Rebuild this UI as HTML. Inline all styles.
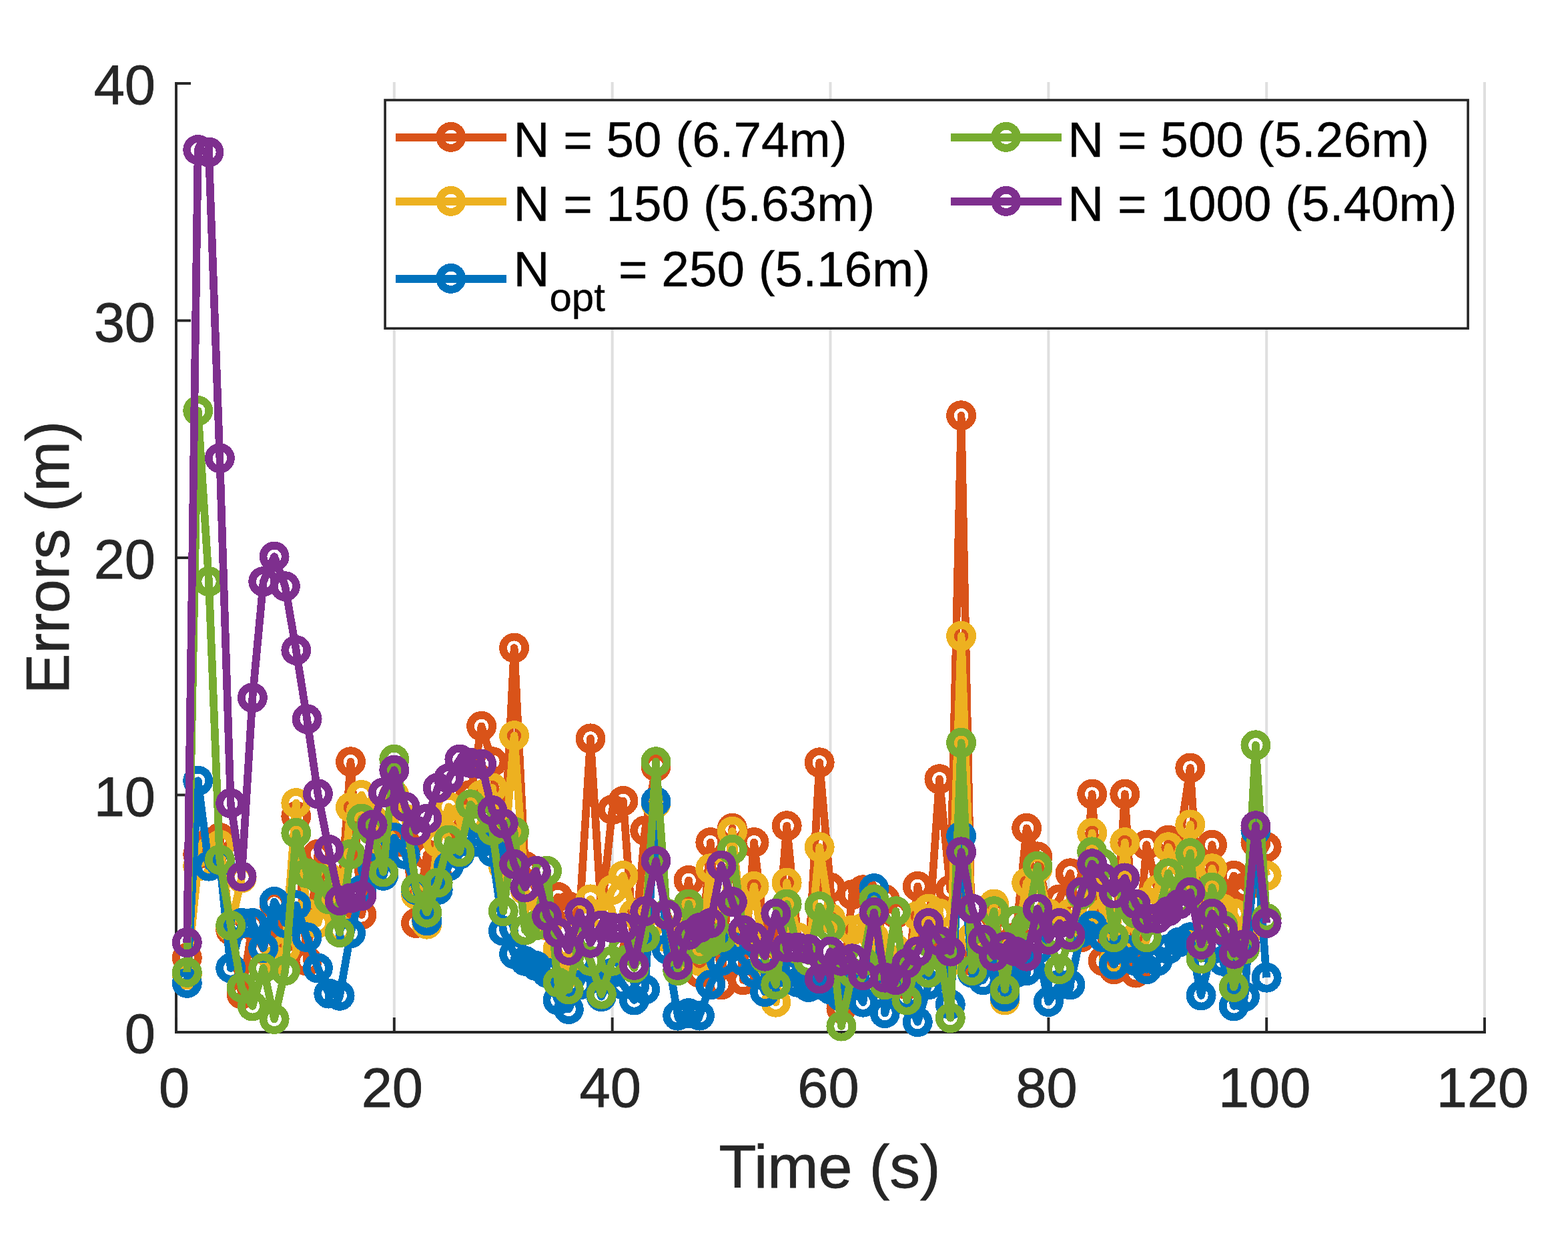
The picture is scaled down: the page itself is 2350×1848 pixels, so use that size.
<!DOCTYPE html><html><head><meta charset="utf-8"><title>Errors vs Time</title>
<style>html,body{margin:0;padding:0;background:#fff;}svg{display:block;}text{font-family:"Liberation Sans",Arial,sans-serif;}</style></head><body>
<svg width="2350" height="1848" viewBox="0 0 2350 1848">
<rect x="0" y="0" width="2350" height="1848" fill="#ffffff"/>
<line x1="590.8" y1="123" x2="590.8" y2="1547" stroke="#dfdfdf" stroke-width="4"/>
<line x1="917.7" y1="123" x2="917.7" y2="1547" stroke="#dfdfdf" stroke-width="4"/>
<line x1="1244.5" y1="123" x2="1244.5" y2="1547" stroke="#dfdfdf" stroke-width="4"/>
<line x1="1571.4" y1="123" x2="1571.4" y2="1547" stroke="#dfdfdf" stroke-width="4"/>
<line x1="1898.2" y1="123" x2="1898.2" y2="1547" stroke="#dfdfdf" stroke-width="4"/>
<line x1="2225.0" y1="123" x2="2225.0" y2="1547" stroke="#dfdfdf" stroke-width="4"/>
<g stroke="#262626" stroke-width="3.9" fill="none">
<line x1="264" y1="123" x2="264" y2="1548.95"/>
<line x1="262.05" y1="1547" x2="2227" y2="1547"/>
<line x1="264" y1="1547.0" x2="286" y2="1547.0"/>
<line x1="264" y1="1191.5" x2="286" y2="1191.5"/>
<line x1="264" y1="836.0" x2="286" y2="836.0"/>
<line x1="264" y1="480.5" x2="286" y2="480.5"/>
<line x1="264" y1="125.0" x2="286" y2="125.0"/>
<line x1="264.0" y1="1547" x2="264.0" y2="1525"/>
<line x1="590.8" y1="1547" x2="590.8" y2="1525"/>
<line x1="917.7" y1="1547" x2="917.7" y2="1525"/>
<line x1="1244.5" y1="1547" x2="1244.5" y2="1525"/>
<line x1="1571.4" y1="1547" x2="1571.4" y2="1525"/>
<line x1="1898.2" y1="1547" x2="1898.2" y2="1525"/>
<line x1="2225.0" y1="1547" x2="2225.0" y2="1525"/>
</g>
<g stroke="#D95319" fill="none" shape-rendering="crispEdges">
<polyline points="280.3,1435.7 296.7,1280.4 313.0,1262.6 329.4,1255.5 345.7,1394.1 362.1,1490.1 378.4,1387.0 394.7,1422.6 411.1,1355.0 427.4,1404.8 443.8,1223.5 460.1,1440.3 476.4,1280.4 492.8,1333.7 509.1,1369.2 525.5,1141.7 541.8,1371.0 558.2,1298.2 574.5,1262.6 590.8,1262.6 607.2,1262.6 623.5,1383.5 639.9,1280.4 656.2,1315.9 672.5,1262.6 688.9,1227.0 705.2,1191.5 721.6,1088.4 737.9,1141.7 754.3,1298.2 770.6,971.1 786.9,1298.2 803.3,1333.7 819.6,1369.2 836.0,1344.4 852.3,1358.6 868.7,1369.2 885.0,1106.9 901.3,1369.2 917.7,1213.5 934.0,1200.4 950.4,1422.6 966.7,1244.8 983.0,1148.8 999.4,1369.2 1015.7,1404.8 1032.1,1319.5 1048.4,1458.1 1064.8,1262.6 1081.1,1475.9 1097.4,1241.3 1113.8,1468.8 1130.1,1262.6 1146.5,1404.8 1162.8,1440.3 1179.2,1237.7 1195.5,1404.8 1211.8,1440.3 1228.2,1142.8 1244.5,1330.1 1260.9,1511.5 1277.2,1340.8 1293.5,1333.7 1309.9,1440.3 1326.2,1347.9 1342.6,1369.2 1358.9,1475.9 1375.3,1328.4 1391.6,1404.8 1407.9,1167.7 1424.3,1333.7 1440.6,622.7 1457.0,1440.3 1473.3,1440.3 1489.6,1369.2 1506.0,1440.3 1522.3,1404.8 1538.7,1241.3 1555.0,1283.9 1571.4,1369.2 1587.7,1347.9 1604.0,1308.8 1620.4,1404.8 1636.7,1190.1 1653.1,1440.3 1669.4,1452.8 1685.8,1190.1 1702.1,1458.1 1718.4,1266.2 1734.8,1333.7 1751.1,1259.0 1767.5,1262.6 1783.8,1151.0 1800.1,1404.8 1816.5,1266.2 1832.8,1351.5 1849.2,1312.4 1865.5,1330.1 1881.9,1262.6 1898.2,1269.7" stroke-width="11.7" stroke-linejoin="round" stroke-linecap="butt"/>
<g stroke-width="11.8"><circle cx="280.3" cy="1435.7" r="16.55"/><circle cx="296.7" cy="1280.4" r="16.55"/><circle cx="313.0" cy="1262.6" r="16.55"/><circle cx="329.4" cy="1255.5" r="16.55"/><circle cx="345.7" cy="1394.1" r="16.55"/><circle cx="362.1" cy="1490.1" r="16.55"/><circle cx="378.4" cy="1387.0" r="16.55"/><circle cx="394.7" cy="1422.6" r="16.55"/><circle cx="411.1" cy="1355.0" r="16.55"/><circle cx="427.4" cy="1404.8" r="16.55"/><circle cx="443.8" cy="1223.5" r="16.55"/><circle cx="460.1" cy="1440.3" r="16.55"/><circle cx="476.4" cy="1280.4" r="16.55"/><circle cx="492.8" cy="1333.7" r="16.55"/><circle cx="509.1" cy="1369.2" r="16.55"/><circle cx="525.5" cy="1141.7" r="16.55"/><circle cx="541.8" cy="1371.0" r="16.55"/><circle cx="558.2" cy="1298.2" r="16.55"/><circle cx="574.5" cy="1262.6" r="16.55"/><circle cx="590.8" cy="1262.6" r="16.55"/><circle cx="607.2" cy="1262.6" r="16.55"/><circle cx="623.5" cy="1383.5" r="16.55"/><circle cx="639.9" cy="1280.4" r="16.55"/><circle cx="656.2" cy="1315.9" r="16.55"/><circle cx="672.5" cy="1262.6" r="16.55"/><circle cx="688.9" cy="1227.0" r="16.55"/><circle cx="705.2" cy="1191.5" r="16.55"/><circle cx="721.6" cy="1088.4" r="16.55"/><circle cx="737.9" cy="1141.7" r="16.55"/><circle cx="754.3" cy="1298.2" r="16.55"/><circle cx="770.6" cy="971.1" r="16.55"/><circle cx="786.9" cy="1298.2" r="16.55"/><circle cx="803.3" cy="1333.7" r="16.55"/><circle cx="819.6" cy="1369.2" r="16.55"/><circle cx="836.0" cy="1344.4" r="16.55"/><circle cx="852.3" cy="1358.6" r="16.55"/><circle cx="868.7" cy="1369.2" r="16.55"/><circle cx="885.0" cy="1106.9" r="16.55"/><circle cx="901.3" cy="1369.2" r="16.55"/><circle cx="917.7" cy="1213.5" r="16.55"/><circle cx="934.0" cy="1200.4" r="16.55"/><circle cx="950.4" cy="1422.6" r="16.55"/><circle cx="966.7" cy="1244.8" r="16.55"/><circle cx="983.0" cy="1148.8" r="16.55"/><circle cx="999.4" cy="1369.2" r="16.55"/><circle cx="1015.7" cy="1404.8" r="16.55"/><circle cx="1032.1" cy="1319.5" r="16.55"/><circle cx="1048.4" cy="1458.1" r="16.55"/><circle cx="1064.8" cy="1262.6" r="16.55"/><circle cx="1081.1" cy="1475.9" r="16.55"/><circle cx="1097.4" cy="1241.3" r="16.55"/><circle cx="1113.8" cy="1468.8" r="16.55"/><circle cx="1130.1" cy="1262.6" r="16.55"/><circle cx="1146.5" cy="1404.8" r="16.55"/><circle cx="1162.8" cy="1440.3" r="16.55"/><circle cx="1179.2" cy="1237.7" r="16.55"/><circle cx="1195.5" cy="1404.8" r="16.55"/><circle cx="1211.8" cy="1440.3" r="16.55"/><circle cx="1228.2" cy="1142.8" r="16.55"/><circle cx="1244.5" cy="1330.1" r="16.55"/><circle cx="1260.9" cy="1511.5" r="16.55"/><circle cx="1277.2" cy="1340.8" r="16.55"/><circle cx="1293.5" cy="1333.7" r="16.55"/><circle cx="1309.9" cy="1440.3" r="16.55"/><circle cx="1326.2" cy="1347.9" r="16.55"/><circle cx="1342.6" cy="1369.2" r="16.55"/><circle cx="1358.9" cy="1475.9" r="16.55"/><circle cx="1375.3" cy="1328.4" r="16.55"/><circle cx="1391.6" cy="1404.8" r="16.55"/><circle cx="1407.9" cy="1167.7" r="16.55"/><circle cx="1424.3" cy="1333.7" r="16.55"/><circle cx="1440.6" cy="622.7" r="16.55"/><circle cx="1457.0" cy="1440.3" r="16.55"/><circle cx="1473.3" cy="1440.3" r="16.55"/><circle cx="1489.6" cy="1369.2" r="16.55"/><circle cx="1506.0" cy="1440.3" r="16.55"/><circle cx="1522.3" cy="1404.8" r="16.55"/><circle cx="1538.7" cy="1241.3" r="16.55"/><circle cx="1555.0" cy="1283.9" r="16.55"/><circle cx="1571.4" cy="1369.2" r="16.55"/><circle cx="1587.7" cy="1347.9" r="16.55"/><circle cx="1604.0" cy="1308.8" r="16.55"/><circle cx="1620.4" cy="1404.8" r="16.55"/><circle cx="1636.7" cy="1190.1" r="16.55"/><circle cx="1653.1" cy="1440.3" r="16.55"/><circle cx="1669.4" cy="1452.8" r="16.55"/><circle cx="1685.8" cy="1190.1" r="16.55"/><circle cx="1702.1" cy="1458.1" r="16.55"/><circle cx="1718.4" cy="1266.2" r="16.55"/><circle cx="1734.8" cy="1333.7" r="16.55"/><circle cx="1751.1" cy="1259.0" r="16.55"/><circle cx="1767.5" cy="1262.6" r="16.55"/><circle cx="1783.8" cy="1151.0" r="16.55"/><circle cx="1800.1" cy="1404.8" r="16.55"/><circle cx="1816.5" cy="1266.2" r="16.55"/><circle cx="1832.8" cy="1351.5" r="16.55"/><circle cx="1849.2" cy="1312.4" r="16.55"/><circle cx="1865.5" cy="1330.1" r="16.55"/><circle cx="1881.9" cy="1262.6" r="16.55"/><circle cx="1898.2" cy="1269.7" r="16.55"/></g>
</g>
<g stroke="#EDB120" fill="none" shape-rendering="crispEdges">
<polyline points="280.3,1461.0 296.7,1298.2 313.0,1276.8 329.4,1266.2 345.7,1388.8 362.1,1315.9" stroke-width="11.7" stroke-linejoin="round" stroke-linecap="butt"/>
<polyline points="394.7,1451.0 411.1,1440.3 427.4,1422.6 443.8,1203.6 460.1,1369.2 476.4,1383.5 492.8,1315.9 509.1,1394.1 525.5,1210.0 541.8,1191.5 558.2,1227.0 574.5,1262.6 590.8,1191.5 607.2,1227.0 623.5,1340.8 639.9,1385.2 656.2,1262.6 672.5,1209.3 688.9,1227.0 705.2,1227.0 721.6,1191.5 737.9,1180.8 754.3,1298.2 770.6,1102.6 786.9,1333.7 803.3,1369.2 819.6,1387.0 836.0,1422.6 852.3,1458.1 868.7,1369.2 885.0,1347.9 901.3,1369.2 917.7,1333.7 934.0,1312.4 950.4,1369.2 966.7,1369.2 983.0,1203.9 999.4,1404.8 1015.7,1440.3 1032.1,1369.2 1048.4,1440.3 1064.8,1301.7 1081.1,1404.8 1097.4,1246.2 1113.8,1404.8 1130.1,1328.4 1146.5,1440.3 1162.8,1502.2 1179.2,1323.0 1195.5,1404.8 1211.8,1440.3 1228.2,1269.7 1244.5,1376.4 1260.9,1475.9 1277.2,1394.1 1293.5,1390.6 1309.9,1404.8 1326.2,1440.3 1342.6,1422.6 1358.9,1458.1 1375.3,1372.8 1391.6,1362.1 1407.9,1369.2 1424.3,1440.3 1440.6,953.3 1457.0,1404.8 1473.3,1422.6 1489.6,1355.0 1506.0,1499.0 1522.3,1422.6 1538.7,1323.0 1555.0,1301.7 1571.4,1369.2 1587.7,1379.9 1604.0,1369.2 1620.4,1387.0 1636.7,1248.4 1653.1,1369.2 1669.4,1440.3 1685.8,1262.6 1702.1,1404.8 1718.4,1351.5 1734.8,1333.7 1751.1,1269.7 1767.5,1315.9 1783.8,1235.9 1800.1,1404.8 1816.5,1301.7 1832.8,1362.1 1849.2,1369.2 1865.5,1404.8 1881.9,1241.3 1898.2,1312.4" stroke-width="11.7" stroke-linejoin="round" stroke-linecap="butt"/>
<g stroke-width="11.8"><circle cx="280.3" cy="1461.0" r="16.55"/><circle cx="296.7" cy="1298.2" r="16.55"/><circle cx="313.0" cy="1276.8" r="16.55"/><circle cx="329.4" cy="1266.2" r="16.55"/><circle cx="345.7" cy="1388.8" r="16.55"/><circle cx="362.1" cy="1315.9" r="16.55"/><circle cx="394.7" cy="1451.0" r="16.55"/><circle cx="411.1" cy="1440.3" r="16.55"/><circle cx="427.4" cy="1422.6" r="16.55"/><circle cx="443.8" cy="1203.6" r="16.55"/><circle cx="460.1" cy="1369.2" r="16.55"/><circle cx="476.4" cy="1383.5" r="16.55"/><circle cx="492.8" cy="1315.9" r="16.55"/><circle cx="509.1" cy="1394.1" r="16.55"/><circle cx="525.5" cy="1210.0" r="16.55"/><circle cx="541.8" cy="1191.5" r="16.55"/><circle cx="558.2" cy="1227.0" r="16.55"/><circle cx="574.5" cy="1262.6" r="16.55"/><circle cx="590.8" cy="1191.5" r="16.55"/><circle cx="607.2" cy="1227.0" r="16.55"/><circle cx="623.5" cy="1340.8" r="16.55"/><circle cx="639.9" cy="1385.2" r="16.55"/><circle cx="656.2" cy="1262.6" r="16.55"/><circle cx="672.5" cy="1209.3" r="16.55"/><circle cx="688.9" cy="1227.0" r="16.55"/><circle cx="705.2" cy="1227.0" r="16.55"/><circle cx="721.6" cy="1191.5" r="16.55"/><circle cx="737.9" cy="1180.8" r="16.55"/><circle cx="754.3" cy="1298.2" r="16.55"/><circle cx="770.6" cy="1102.6" r="16.55"/><circle cx="786.9" cy="1333.7" r="16.55"/><circle cx="803.3" cy="1369.2" r="16.55"/><circle cx="819.6" cy="1387.0" r="16.55"/><circle cx="836.0" cy="1422.6" r="16.55"/><circle cx="852.3" cy="1458.1" r="16.55"/><circle cx="868.7" cy="1369.2" r="16.55"/><circle cx="885.0" cy="1347.9" r="16.55"/><circle cx="901.3" cy="1369.2" r="16.55"/><circle cx="917.7" cy="1333.7" r="16.55"/><circle cx="934.0" cy="1312.4" r="16.55"/><circle cx="950.4" cy="1369.2" r="16.55"/><circle cx="966.7" cy="1369.2" r="16.55"/><circle cx="983.0" cy="1203.9" r="16.55"/><circle cx="999.4" cy="1404.8" r="16.55"/><circle cx="1015.7" cy="1440.3" r="16.55"/><circle cx="1032.1" cy="1369.2" r="16.55"/><circle cx="1048.4" cy="1440.3" r="16.55"/><circle cx="1064.8" cy="1301.7" r="16.55"/><circle cx="1081.1" cy="1404.8" r="16.55"/><circle cx="1097.4" cy="1246.2" r="16.55"/><circle cx="1113.8" cy="1404.8" r="16.55"/><circle cx="1130.1" cy="1328.4" r="16.55"/><circle cx="1146.5" cy="1440.3" r="16.55"/><circle cx="1162.8" cy="1502.2" r="16.55"/><circle cx="1179.2" cy="1323.0" r="16.55"/><circle cx="1195.5" cy="1404.8" r="16.55"/><circle cx="1211.8" cy="1440.3" r="16.55"/><circle cx="1228.2" cy="1269.7" r="16.55"/><circle cx="1244.5" cy="1376.4" r="16.55"/><circle cx="1260.9" cy="1475.9" r="16.55"/><circle cx="1277.2" cy="1394.1" r="16.55"/><circle cx="1293.5" cy="1390.6" r="16.55"/><circle cx="1309.9" cy="1404.8" r="16.55"/><circle cx="1326.2" cy="1440.3" r="16.55"/><circle cx="1342.6" cy="1422.6" r="16.55"/><circle cx="1358.9" cy="1458.1" r="16.55"/><circle cx="1375.3" cy="1372.8" r="16.55"/><circle cx="1391.6" cy="1362.1" r="16.55"/><circle cx="1407.9" cy="1369.2" r="16.55"/><circle cx="1424.3" cy="1440.3" r="16.55"/><circle cx="1440.6" cy="953.3" r="16.55"/><circle cx="1457.0" cy="1404.8" r="16.55"/><circle cx="1473.3" cy="1422.6" r="16.55"/><circle cx="1489.6" cy="1355.0" r="16.55"/><circle cx="1506.0" cy="1499.0" r="16.55"/><circle cx="1522.3" cy="1422.6" r="16.55"/><circle cx="1538.7" cy="1323.0" r="16.55"/><circle cx="1555.0" cy="1301.7" r="16.55"/><circle cx="1571.4" cy="1369.2" r="16.55"/><circle cx="1587.7" cy="1379.9" r="16.55"/><circle cx="1604.0" cy="1369.2" r="16.55"/><circle cx="1620.4" cy="1387.0" r="16.55"/><circle cx="1636.7" cy="1248.4" r="16.55"/><circle cx="1653.1" cy="1369.2" r="16.55"/><circle cx="1669.4" cy="1440.3" r="16.55"/><circle cx="1685.8" cy="1262.6" r="16.55"/><circle cx="1702.1" cy="1404.8" r="16.55"/><circle cx="1718.4" cy="1351.5" r="16.55"/><circle cx="1734.8" cy="1333.7" r="16.55"/><circle cx="1751.1" cy="1269.7" r="16.55"/><circle cx="1767.5" cy="1315.9" r="16.55"/><circle cx="1783.8" cy="1235.9" r="16.55"/><circle cx="1800.1" cy="1404.8" r="16.55"/><circle cx="1816.5" cy="1301.7" r="16.55"/><circle cx="1832.8" cy="1362.1" r="16.55"/><circle cx="1849.2" cy="1369.2" r="16.55"/><circle cx="1865.5" cy="1404.8" r="16.55"/><circle cx="1881.9" cy="1241.3" r="16.55"/><circle cx="1898.2" cy="1312.4" r="16.55"/></g>
</g>
<g stroke="#0072BD" fill="none" shape-rendering="crispEdges">
<polyline points="280.3,1473.4 296.7,1170.2 313.0,1298.2 329.4,1291.0 345.7,1451.0 362.1,1383.5 378.4,1383.5 394.7,1420.8 411.1,1351.5 427.4,1383.5 443.8,1356.8 460.1,1404.8 476.4,1451.0 492.8,1489.1 509.1,1492.3 525.5,1398.8 541.8,1333.7 558.2,1301.7 574.5,1312.4 590.8,1255.5 607.2,1280.4 623.5,1333.7 639.9,1379.9 656.2,1333.7 672.5,1298.2 688.9,1280.4 705.2,1262.6 721.6,1262.6 737.9,1276.8 754.3,1395.2 770.6,1429.7 786.9,1440.3 803.3,1447.5 819.6,1458.1 836.0,1499.0 852.3,1512.5 868.7,1475.9 885.0,1440.3 901.3,1493.7 917.7,1458.1 934.0,1475.9 950.4,1499.0 966.7,1483.0 983.0,1201.5 999.4,1422.6 1015.7,1522.1 1032.1,1518.6 1048.4,1522.1 1064.8,1475.9 1081.1,1440.3 1097.4,1419.0 1113.8,1440.3 1130.1,1458.1 1146.5,1486.6 1162.8,1458.1 1179.2,1458.1 1195.5,1472.3 1211.8,1479.5 1228.2,1475.9 1244.5,1483.0 1260.9,1493.7 1277.2,1475.9 1293.5,1502.2 1309.9,1331.6 1326.2,1518.6 1342.6,1458.1 1358.9,1493.7 1375.3,1531.7 1391.6,1475.9 1407.9,1458.1 1424.3,1505.4 1440.6,1253.0 1457.0,1458.1 1473.3,1468.8 1489.6,1440.3 1506.0,1493.7 1522.3,1458.1 1538.7,1454.6 1555.0,1422.6 1571.4,1501.5 1587.7,1475.9 1604.0,1475.9 1620.4,1397.7 1636.7,1387.0 1653.1,1404.8 1669.4,1445.7 1685.8,1422.6 1702.1,1440.3 1718.4,1452.8 1734.8,1440.3 1751.1,1422.6 1767.5,1411.9 1783.8,1404.8 1800.1,1491.9 1816.5,1422.6 1832.8,1440.3 1849.2,1507.9 1865.5,1493.7 1881.9,1244.8 1898.2,1465.2" stroke-width="11.7" stroke-linejoin="round" stroke-linecap="butt"/>
<g stroke-width="11.8"><circle cx="280.3" cy="1473.4" r="16.55"/><circle cx="296.7" cy="1170.2" r="16.55"/><circle cx="313.0" cy="1298.2" r="16.55"/><circle cx="329.4" cy="1291.0" r="16.55"/><circle cx="345.7" cy="1451.0" r="16.55"/><circle cx="362.1" cy="1383.5" r="16.55"/><circle cx="378.4" cy="1383.5" r="16.55"/><circle cx="394.7" cy="1420.8" r="16.55"/><circle cx="411.1" cy="1351.5" r="16.55"/><circle cx="427.4" cy="1383.5" r="16.55"/><circle cx="443.8" cy="1356.8" r="16.55"/><circle cx="460.1" cy="1404.8" r="16.55"/><circle cx="476.4" cy="1451.0" r="16.55"/><circle cx="492.8" cy="1489.1" r="16.55"/><circle cx="509.1" cy="1492.3" r="16.55"/><circle cx="525.5" cy="1398.8" r="16.55"/><circle cx="541.8" cy="1333.7" r="16.55"/><circle cx="558.2" cy="1301.7" r="16.55"/><circle cx="574.5" cy="1312.4" r="16.55"/><circle cx="590.8" cy="1255.5" r="16.55"/><circle cx="607.2" cy="1280.4" r="16.55"/><circle cx="623.5" cy="1333.7" r="16.55"/><circle cx="639.9" cy="1379.9" r="16.55"/><circle cx="656.2" cy="1333.7" r="16.55"/><circle cx="672.5" cy="1298.2" r="16.55"/><circle cx="688.9" cy="1280.4" r="16.55"/><circle cx="705.2" cy="1262.6" r="16.55"/><circle cx="721.6" cy="1262.6" r="16.55"/><circle cx="737.9" cy="1276.8" r="16.55"/><circle cx="754.3" cy="1395.2" r="16.55"/><circle cx="770.6" cy="1429.7" r="16.55"/><circle cx="786.9" cy="1440.3" r="16.55"/><circle cx="803.3" cy="1447.5" r="16.55"/><circle cx="819.6" cy="1458.1" r="16.55"/><circle cx="836.0" cy="1499.0" r="16.55"/><circle cx="852.3" cy="1512.5" r="16.55"/><circle cx="868.7" cy="1475.9" r="16.55"/><circle cx="885.0" cy="1440.3" r="16.55"/><circle cx="901.3" cy="1493.7" r="16.55"/><circle cx="917.7" cy="1458.1" r="16.55"/><circle cx="934.0" cy="1475.9" r="16.55"/><circle cx="950.4" cy="1499.0" r="16.55"/><circle cx="966.7" cy="1483.0" r="16.55"/><circle cx="983.0" cy="1201.5" r="16.55"/><circle cx="999.4" cy="1422.6" r="16.55"/><circle cx="1015.7" cy="1522.1" r="16.55"/><circle cx="1032.1" cy="1518.6" r="16.55"/><circle cx="1048.4" cy="1522.1" r="16.55"/><circle cx="1064.8" cy="1475.9" r="16.55"/><circle cx="1081.1" cy="1440.3" r="16.55"/><circle cx="1097.4" cy="1419.0" r="16.55"/><circle cx="1113.8" cy="1440.3" r="16.55"/><circle cx="1130.1" cy="1458.1" r="16.55"/><circle cx="1146.5" cy="1486.6" r="16.55"/><circle cx="1162.8" cy="1458.1" r="16.55"/><circle cx="1179.2" cy="1458.1" r="16.55"/><circle cx="1195.5" cy="1472.3" r="16.55"/><circle cx="1211.8" cy="1479.5" r="16.55"/><circle cx="1228.2" cy="1475.9" r="16.55"/><circle cx="1244.5" cy="1483.0" r="16.55"/><circle cx="1260.9" cy="1493.7" r="16.55"/><circle cx="1277.2" cy="1475.9" r="16.55"/><circle cx="1293.5" cy="1502.2" r="16.55"/><circle cx="1309.9" cy="1331.6" r="16.55"/><circle cx="1326.2" cy="1518.6" r="16.55"/><circle cx="1342.6" cy="1458.1" r="16.55"/><circle cx="1358.9" cy="1493.7" r="16.55"/><circle cx="1375.3" cy="1531.7" r="16.55"/><circle cx="1391.6" cy="1475.9" r="16.55"/><circle cx="1407.9" cy="1458.1" r="16.55"/><circle cx="1424.3" cy="1505.4" r="16.55"/><circle cx="1440.6" cy="1253.0" r="16.55"/><circle cx="1457.0" cy="1458.1" r="16.55"/><circle cx="1473.3" cy="1468.8" r="16.55"/><circle cx="1489.6" cy="1440.3" r="16.55"/><circle cx="1506.0" cy="1493.7" r="16.55"/><circle cx="1522.3" cy="1458.1" r="16.55"/><circle cx="1538.7" cy="1454.6" r="16.55"/><circle cx="1555.0" cy="1422.6" r="16.55"/><circle cx="1571.4" cy="1501.5" r="16.55"/><circle cx="1587.7" cy="1475.9" r="16.55"/><circle cx="1604.0" cy="1475.9" r="16.55"/><circle cx="1620.4" cy="1397.7" r="16.55"/><circle cx="1636.7" cy="1387.0" r="16.55"/><circle cx="1653.1" cy="1404.8" r="16.55"/><circle cx="1669.4" cy="1445.7" r="16.55"/><circle cx="1685.8" cy="1422.6" r="16.55"/><circle cx="1702.1" cy="1440.3" r="16.55"/><circle cx="1718.4" cy="1452.8" r="16.55"/><circle cx="1734.8" cy="1440.3" r="16.55"/><circle cx="1751.1" cy="1422.6" r="16.55"/><circle cx="1767.5" cy="1411.9" r="16.55"/><circle cx="1783.8" cy="1404.8" r="16.55"/><circle cx="1800.1" cy="1491.9" r="16.55"/><circle cx="1816.5" cy="1422.6" r="16.55"/><circle cx="1832.8" cy="1440.3" r="16.55"/><circle cx="1849.2" cy="1507.9" r="16.55"/><circle cx="1865.5" cy="1493.7" r="16.55"/><circle cx="1881.9" cy="1244.8" r="16.55"/><circle cx="1898.2" cy="1465.2" r="16.55"/></g>
</g>
<g stroke="#77AC30" fill="none" shape-rendering="crispEdges">
<polyline points="280.3,1457.4 296.7,615.6 313.0,871.6 329.4,1288.6 345.7,1387.0 362.1,1480.2 378.4,1507.9 394.7,1451.0 411.1,1527.4 427.4,1454.6 443.8,1248.4 460.1,1308.8 476.4,1315.9 492.8,1347.9 509.1,1397.7 525.5,1280.4 541.8,1227.0 558.2,1244.8 574.5,1307.0 590.8,1138.2 607.2,1209.3 623.5,1331.6 639.9,1367.5 656.2,1323.0 672.5,1259.0 688.9,1276.8 705.2,1205.7 721.6,1227.0 737.9,1244.8 754.3,1365.7 770.6,1246.6 786.9,1394.1 803.3,1387.0 819.6,1305.3 836.0,1472.3 852.3,1483.0 868.7,1408.4 885.0,1440.3 901.3,1490.1 917.7,1440.3 934.0,1422.6 950.4,1451.0 966.7,1404.8 983.0,1141.7 999.4,1369.2 1015.7,1454.6 1032.1,1355.0 1048.4,1422.6 1064.8,1411.9 1081.1,1404.8 1097.4,1273.3 1113.8,1394.1 1130.1,1404.8 1146.5,1436.8 1162.8,1475.9 1179.2,1355.0 1195.5,1422.6 1211.8,1440.3 1228.2,1358.6 1244.5,1390.6 1260.9,1538.1 1277.2,1458.1 1293.5,1440.3 1309.9,1347.9 1326.2,1475.9 1342.6,1365.7 1358.9,1499.0 1375.3,1440.3 1391.6,1458.1 1407.9,1422.6 1424.3,1525.7 1440.6,1113.3 1457.0,1454.6 1473.3,1422.6 1489.6,1365.7 1506.0,1483.0 1522.3,1379.9 1538.7,1387.0 1555.0,1298.2 1571.4,1404.8 1587.7,1452.8 1604.0,1404.8 1620.4,1340.8 1636.7,1276.8 1653.1,1294.6 1669.4,1404.8 1685.8,1315.9 1702.1,1369.2 1718.4,1404.8 1734.8,1376.4 1751.1,1308.8 1767.5,1351.5 1783.8,1278.6 1800.1,1436.8 1816.5,1330.1 1832.8,1387.0 1849.2,1479.5 1865.5,1422.6 1881.9,1116.8 1898.2,1376.4" stroke-width="11.7" stroke-linejoin="round" stroke-linecap="butt"/>
<g stroke-width="11.8"><circle cx="280.3" cy="1457.4" r="16.55"/><circle cx="296.7" cy="615.6" r="16.55"/><circle cx="313.0" cy="871.6" r="16.55"/><circle cx="329.4" cy="1288.6" r="16.55"/><circle cx="345.7" cy="1387.0" r="16.55"/><circle cx="362.1" cy="1480.2" r="16.55"/><circle cx="378.4" cy="1507.9" r="16.55"/><circle cx="394.7" cy="1451.0" r="16.55"/><circle cx="411.1" cy="1527.4" r="16.55"/><circle cx="427.4" cy="1454.6" r="16.55"/><circle cx="443.8" cy="1248.4" r="16.55"/><circle cx="460.1" cy="1308.8" r="16.55"/><circle cx="476.4" cy="1315.9" r="16.55"/><circle cx="492.8" cy="1347.9" r="16.55"/><circle cx="509.1" cy="1397.7" r="16.55"/><circle cx="525.5" cy="1280.4" r="16.55"/><circle cx="541.8" cy="1227.0" r="16.55"/><circle cx="558.2" cy="1244.8" r="16.55"/><circle cx="574.5" cy="1307.0" r="16.55"/><circle cx="590.8" cy="1138.2" r="16.55"/><circle cx="607.2" cy="1209.3" r="16.55"/><circle cx="623.5" cy="1331.6" r="16.55"/><circle cx="639.9" cy="1367.5" r="16.55"/><circle cx="656.2" cy="1323.0" r="16.55"/><circle cx="672.5" cy="1259.0" r="16.55"/><circle cx="688.9" cy="1276.8" r="16.55"/><circle cx="705.2" cy="1205.7" r="16.55"/><circle cx="721.6" cy="1227.0" r="16.55"/><circle cx="737.9" cy="1244.8" r="16.55"/><circle cx="754.3" cy="1365.7" r="16.55"/><circle cx="770.6" cy="1246.6" r="16.55"/><circle cx="786.9" cy="1394.1" r="16.55"/><circle cx="803.3" cy="1387.0" r="16.55"/><circle cx="819.6" cy="1305.3" r="16.55"/><circle cx="836.0" cy="1472.3" r="16.55"/><circle cx="852.3" cy="1483.0" r="16.55"/><circle cx="868.7" cy="1408.4" r="16.55"/><circle cx="885.0" cy="1440.3" r="16.55"/><circle cx="901.3" cy="1490.1" r="16.55"/><circle cx="917.7" cy="1440.3" r="16.55"/><circle cx="934.0" cy="1422.6" r="16.55"/><circle cx="950.4" cy="1451.0" r="16.55"/><circle cx="966.7" cy="1404.8" r="16.55"/><circle cx="983.0" cy="1141.7" r="16.55"/><circle cx="999.4" cy="1369.2" r="16.55"/><circle cx="1015.7" cy="1454.6" r="16.55"/><circle cx="1032.1" cy="1355.0" r="16.55"/><circle cx="1048.4" cy="1422.6" r="16.55"/><circle cx="1064.8" cy="1411.9" r="16.55"/><circle cx="1081.1" cy="1404.8" r="16.55"/><circle cx="1097.4" cy="1273.3" r="16.55"/><circle cx="1113.8" cy="1394.1" r="16.55"/><circle cx="1130.1" cy="1404.8" r="16.55"/><circle cx="1146.5" cy="1436.8" r="16.55"/><circle cx="1162.8" cy="1475.9" r="16.55"/><circle cx="1179.2" cy="1355.0" r="16.55"/><circle cx="1195.5" cy="1422.6" r="16.55"/><circle cx="1211.8" cy="1440.3" r="16.55"/><circle cx="1228.2" cy="1358.6" r="16.55"/><circle cx="1244.5" cy="1390.6" r="16.55"/><circle cx="1260.9" cy="1538.1" r="16.55"/><circle cx="1277.2" cy="1458.1" r="16.55"/><circle cx="1293.5" cy="1440.3" r="16.55"/><circle cx="1309.9" cy="1347.9" r="16.55"/><circle cx="1326.2" cy="1475.9" r="16.55"/><circle cx="1342.6" cy="1365.7" r="16.55"/><circle cx="1358.9" cy="1499.0" r="16.55"/><circle cx="1375.3" cy="1440.3" r="16.55"/><circle cx="1391.6" cy="1458.1" r="16.55"/><circle cx="1407.9" cy="1422.6" r="16.55"/><circle cx="1424.3" cy="1525.7" r="16.55"/><circle cx="1440.6" cy="1113.3" r="16.55"/><circle cx="1457.0" cy="1454.6" r="16.55"/><circle cx="1473.3" cy="1422.6" r="16.55"/><circle cx="1489.6" cy="1365.7" r="16.55"/><circle cx="1506.0" cy="1483.0" r="16.55"/><circle cx="1522.3" cy="1379.9" r="16.55"/><circle cx="1538.7" cy="1387.0" r="16.55"/><circle cx="1555.0" cy="1298.2" r="16.55"/><circle cx="1571.4" cy="1404.8" r="16.55"/><circle cx="1587.7" cy="1452.8" r="16.55"/><circle cx="1604.0" cy="1404.8" r="16.55"/><circle cx="1620.4" cy="1340.8" r="16.55"/><circle cx="1636.7" cy="1276.8" r="16.55"/><circle cx="1653.1" cy="1294.6" r="16.55"/><circle cx="1669.4" cy="1404.8" r="16.55"/><circle cx="1685.8" cy="1315.9" r="16.55"/><circle cx="1702.1" cy="1369.2" r="16.55"/><circle cx="1718.4" cy="1404.8" r="16.55"/><circle cx="1734.8" cy="1376.4" r="16.55"/><circle cx="1751.1" cy="1308.8" r="16.55"/><circle cx="1767.5" cy="1351.5" r="16.55"/><circle cx="1783.8" cy="1278.6" r="16.55"/><circle cx="1800.1" cy="1436.8" r="16.55"/><circle cx="1816.5" cy="1330.1" r="16.55"/><circle cx="1832.8" cy="1387.0" r="16.55"/><circle cx="1849.2" cy="1479.5" r="16.55"/><circle cx="1865.5" cy="1422.6" r="16.55"/><circle cx="1881.9" cy="1116.8" r="16.55"/><circle cx="1898.2" cy="1376.4" r="16.55"/></g>
</g>
<g stroke="#7E2F8E" fill="none" shape-rendering="crispEdges">
<polyline points="280.3,1412.6 296.7,224.5 313.0,228.1 329.4,686.7 345.7,1203.9 362.1,1313.8 378.4,1045.7 394.7,871.6 411.1,834.2 427.4,878.7 443.8,974.6 460.1,1077.7 476.4,1189.7 492.8,1273.3 509.1,1349.7 525.5,1346.1 541.8,1342.6 558.2,1236.3 574.5,1187.9 590.8,1154.2 607.2,1209.3 623.5,1244.8 639.9,1227.0 656.2,1180.8 672.5,1166.6 688.9,1138.2 705.2,1143.5 721.6,1145.3 737.9,1214.6 754.3,1234.2 770.6,1295.3 786.9,1330.1 803.3,1305.3 819.6,1372.8 836.0,1397.7 852.3,1424.4 868.7,1367.5 885.0,1413.3 901.3,1387.0 917.7,1390.6 934.0,1390.6 950.4,1446.4 966.7,1365.7 983.0,1290.3 999.4,1371.0 1015.7,1446.4 1032.1,1401.2 1048.4,1390.6 1064.8,1383.5 1081.1,1297.1 1097.4,1351.5 1113.8,1394.1 1130.1,1404.8 1146.5,1433.2 1162.8,1369.2 1179.2,1420.1 1195.5,1420.1 1211.8,1422.6 1228.2,1467.0 1244.5,1426.1 1260.9,1440.3 1277.2,1436.8 1293.5,1461.7 1309.9,1367.5 1326.2,1465.2 1342.6,1468.8 1358.9,1443.9 1375.3,1426.1 1391.6,1383.5 1407.9,1410.1 1424.3,1426.1 1440.6,1276.8 1457.0,1362.1 1473.3,1408.4 1489.6,1433.2 1506.0,1419.0 1522.3,1426.1 1538.7,1433.2 1555.0,1362.1 1571.4,1408.4 1587.7,1383.5 1604.0,1401.2 1620.4,1337.3 1636.7,1294.6 1653.1,1315.9 1669.4,1339.0 1685.8,1315.9 1702.1,1355.0 1718.4,1376.4 1734.8,1376.4 1751.1,1365.7 1767.5,1355.0 1783.8,1337.3 1800.1,1415.5 1816.5,1369.2 1832.8,1394.1 1849.2,1429.7 1865.5,1415.5 1881.9,1237.7 1898.2,1383.5" stroke-width="11.7" stroke-linejoin="round" stroke-linecap="butt"/>
<g stroke-width="11.8"><circle cx="280.3" cy="1412.6" r="16.55"/><circle cx="296.7" cy="224.5" r="16.55"/><circle cx="313.0" cy="228.1" r="16.55"/><circle cx="329.4" cy="686.7" r="16.55"/><circle cx="345.7" cy="1203.9" r="16.55"/><circle cx="362.1" cy="1313.8" r="16.55"/><circle cx="378.4" cy="1045.7" r="16.55"/><circle cx="394.7" cy="871.6" r="16.55"/><circle cx="411.1" cy="834.2" r="16.55"/><circle cx="427.4" cy="878.7" r="16.55"/><circle cx="443.8" cy="974.6" r="16.55"/><circle cx="460.1" cy="1077.7" r="16.55"/><circle cx="476.4" cy="1189.7" r="16.55"/><circle cx="492.8" cy="1273.3" r="16.55"/><circle cx="509.1" cy="1349.7" r="16.55"/><circle cx="525.5" cy="1346.1" r="16.55"/><circle cx="541.8" cy="1342.6" r="16.55"/><circle cx="558.2" cy="1236.3" r="16.55"/><circle cx="574.5" cy="1187.9" r="16.55"/><circle cx="590.8" cy="1154.2" r="16.55"/><circle cx="607.2" cy="1209.3" r="16.55"/><circle cx="623.5" cy="1244.8" r="16.55"/><circle cx="639.9" cy="1227.0" r="16.55"/><circle cx="656.2" cy="1180.8" r="16.55"/><circle cx="672.5" cy="1166.6" r="16.55"/><circle cx="688.9" cy="1138.2" r="16.55"/><circle cx="705.2" cy="1143.5" r="16.55"/><circle cx="721.6" cy="1145.3" r="16.55"/><circle cx="737.9" cy="1214.6" r="16.55"/><circle cx="754.3" cy="1234.2" r="16.55"/><circle cx="770.6" cy="1295.3" r="16.55"/><circle cx="786.9" cy="1330.1" r="16.55"/><circle cx="803.3" cy="1305.3" r="16.55"/><circle cx="819.6" cy="1372.8" r="16.55"/><circle cx="836.0" cy="1397.7" r="16.55"/><circle cx="852.3" cy="1424.4" r="16.55"/><circle cx="868.7" cy="1367.5" r="16.55"/><circle cx="885.0" cy="1413.3" r="16.55"/><circle cx="901.3" cy="1387.0" r="16.55"/><circle cx="917.7" cy="1390.6" r="16.55"/><circle cx="934.0" cy="1390.6" r="16.55"/><circle cx="950.4" cy="1446.4" r="16.55"/><circle cx="966.7" cy="1365.7" r="16.55"/><circle cx="983.0" cy="1290.3" r="16.55"/><circle cx="999.4" cy="1371.0" r="16.55"/><circle cx="1015.7" cy="1446.4" r="16.55"/><circle cx="1032.1" cy="1401.2" r="16.55"/><circle cx="1048.4" cy="1390.6" r="16.55"/><circle cx="1064.8" cy="1383.5" r="16.55"/><circle cx="1081.1" cy="1297.1" r="16.55"/><circle cx="1097.4" cy="1351.5" r="16.55"/><circle cx="1113.8" cy="1394.1" r="16.55"/><circle cx="1130.1" cy="1404.8" r="16.55"/><circle cx="1146.5" cy="1433.2" r="16.55"/><circle cx="1162.8" cy="1369.2" r="16.55"/><circle cx="1179.2" cy="1420.1" r="16.55"/><circle cx="1195.5" cy="1420.1" r="16.55"/><circle cx="1211.8" cy="1422.6" r="16.55"/><circle cx="1228.2" cy="1467.0" r="16.55"/><circle cx="1244.5" cy="1426.1" r="16.55"/><circle cx="1260.9" cy="1440.3" r="16.55"/><circle cx="1277.2" cy="1436.8" r="16.55"/><circle cx="1293.5" cy="1461.7" r="16.55"/><circle cx="1309.9" cy="1367.5" r="16.55"/><circle cx="1326.2" cy="1465.2" r="16.55"/><circle cx="1342.6" cy="1468.8" r="16.55"/><circle cx="1358.9" cy="1443.9" r="16.55"/><circle cx="1375.3" cy="1426.1" r="16.55"/><circle cx="1391.6" cy="1383.5" r="16.55"/><circle cx="1407.9" cy="1410.1" r="16.55"/><circle cx="1424.3" cy="1426.1" r="16.55"/><circle cx="1440.6" cy="1276.8" r="16.55"/><circle cx="1457.0" cy="1362.1" r="16.55"/><circle cx="1473.3" cy="1408.4" r="16.55"/><circle cx="1489.6" cy="1433.2" r="16.55"/><circle cx="1506.0" cy="1419.0" r="16.55"/><circle cx="1522.3" cy="1426.1" r="16.55"/><circle cx="1538.7" cy="1433.2" r="16.55"/><circle cx="1555.0" cy="1362.1" r="16.55"/><circle cx="1571.4" cy="1408.4" r="16.55"/><circle cx="1587.7" cy="1383.5" r="16.55"/><circle cx="1604.0" cy="1401.2" r="16.55"/><circle cx="1620.4" cy="1337.3" r="16.55"/><circle cx="1636.7" cy="1294.6" r="16.55"/><circle cx="1653.1" cy="1315.9" r="16.55"/><circle cx="1669.4" cy="1339.0" r="16.55"/><circle cx="1685.8" cy="1315.9" r="16.55"/><circle cx="1702.1" cy="1355.0" r="16.55"/><circle cx="1718.4" cy="1376.4" r="16.55"/><circle cx="1734.8" cy="1376.4" r="16.55"/><circle cx="1751.1" cy="1365.7" r="16.55"/><circle cx="1767.5" cy="1355.0" r="16.55"/><circle cx="1783.8" cy="1337.3" r="16.55"/><circle cx="1800.1" cy="1415.5" r="16.55"/><circle cx="1816.5" cy="1369.2" r="16.55"/><circle cx="1832.8" cy="1394.1" r="16.55"/><circle cx="1849.2" cy="1429.7" r="16.55"/><circle cx="1865.5" cy="1415.5" r="16.55"/><circle cx="1881.9" cy="1237.7" r="16.55"/><circle cx="1898.2" cy="1383.5" r="16.55"/></g>
</g>
<g fill="#262626" stroke="#262626" stroke-width="0.8" font-size="83">
<text x="233" y="1578.2" text-anchor="end">0</text>
<text x="233" y="1222.7" text-anchor="end">10</text>
<text x="233" y="867.2" text-anchor="end">20</text>
<text x="233" y="511.7" text-anchor="end">30</text>
<text x="233" y="156.2" text-anchor="end">40</text>
<text x="261.0" y="1659" text-anchor="middle">0</text>
<text x="587.8" y="1659" text-anchor="middle">20</text>
<text x="914.7" y="1659" text-anchor="middle">40</text>
<text x="1241.5" y="1659" text-anchor="middle">60</text>
<text x="1568.4" y="1659" text-anchor="middle">80</text>
<text x="1895.2" y="1659" text-anchor="middle">100</text>
<text x="2222.0" y="1659" text-anchor="middle">120</text>
</g>
<text x="1243.5" y="1780.3" font-size="91.5" fill="#262626" stroke="#262626" stroke-width="0.8" text-anchor="middle">Time (s)</text>
<text transform="translate(102.5,835.6) rotate(-90)" font-size="91" fill="#262626" stroke="#262626" stroke-width="0.8" text-anchor="middle">Errors (m)</text>
<rect x="577.1" y="150" width="1623" height="342.2" fill="#ffffff" stroke="#262626" stroke-width="3.6"/>
<line x1="592.8" y1="206" x2="758.9" y2="206" stroke="#D95319" stroke-width="11.7" shape-rendering="crispEdges"/><circle cx="675.8499999999999" cy="205.4" r="16.55" fill="none" stroke="#D95319" stroke-width="11.8" shape-rendering="crispEdges"/>
<line x1="592.8" y1="302" x2="758.9" y2="302" stroke="#EDB120" stroke-width="11.7" shape-rendering="crispEdges"/><circle cx="675.8499999999999" cy="301.4" r="16.55" fill="none" stroke="#EDB120" stroke-width="11.8" shape-rendering="crispEdges"/>
<line x1="592.8" y1="418" x2="758.9" y2="418" stroke="#0072BD" stroke-width="11.7" shape-rendering="crispEdges"/><circle cx="675.8499999999999" cy="417.4" r="16.55" fill="none" stroke="#0072BD" stroke-width="11.8" shape-rendering="crispEdges"/>
<line x1="1424.7" y1="206" x2="1591" y2="206" stroke="#77AC30" stroke-width="11.7" shape-rendering="crispEdges"/><circle cx="1507.85" cy="205.4" r="16.55" fill="none" stroke="#77AC30" stroke-width="11.8" shape-rendering="crispEdges"/>
<line x1="1424.7" y1="302" x2="1591" y2="302" stroke="#7E2F8E" stroke-width="11.7" shape-rendering="crispEdges"/><circle cx="1507.85" cy="301.4" r="16.55" fill="none" stroke="#7E2F8E" stroke-width="11.8" shape-rendering="crispEdges"/>
<g fill="#000000" stroke="#000000" stroke-width="0.35" font-size="74.7">
<text x="769.5" y="234.5">N = 50 (6.74m)</text>
<text x="769.5" y="331">N = 150 (5.63m)</text>
<text x="769.5" y="428.5">N<tspan font-size="60" dy="37.5">opt</tspan><tspan dy="-37.5" x="927">= 250 (5.16m)</tspan></text>
<text x="1600.3" y="234.5">N = 500 (5.26m)</text>
<text x="1600.3" y="331">N = 1000 (5.40m)</text>
</g>
</svg></body></html>
